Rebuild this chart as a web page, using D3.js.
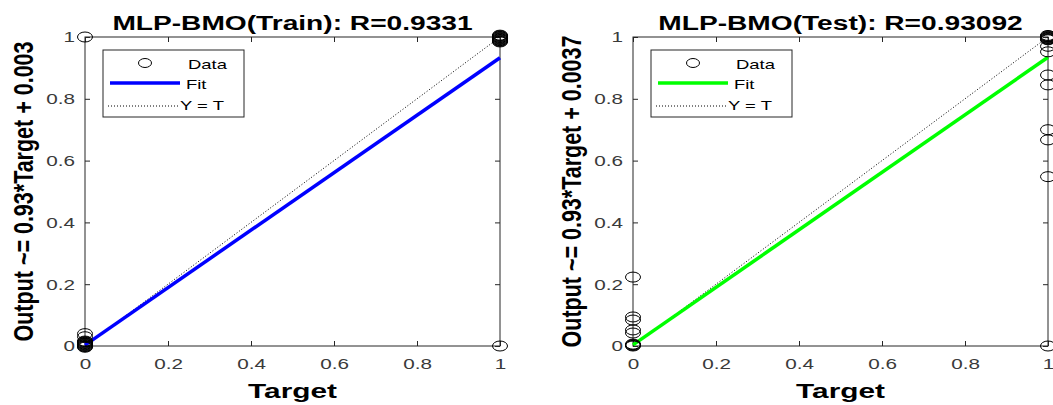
<!DOCTYPE html>
<html>
<head>
<meta charset="utf-8">
<script src="https://cdn.jsdelivr.net/npm/d3@7"></script>
<style>
  body { margin: 0; background: #fff; }
  text { font-family: "Liberation Sans", Arial, sans-serif; }
</style>
</head>
<body>
<svg width="1053" height="405"></svg>
<script>
// values
var ticks = [0, 0.2, 0.4, 0.6, 0.8, 1];
var tickLabels = ["0", "0.2", "0.4", "0.6", "0.8", "1"];

var trainTarget = [0, 0, 0, 0, 0, 0, 0, 0, 0, 0, 0, 0, 0, 0,
                   1, 1, 1, 1, 1, 1, 1, 1, 1, 1, 1, 1, 1];
var trainOutput = [1, 0.04, 0.03, 0.016, 0.014, 0.012, 0.01, 0.008, 0.006, 0.004, 0.002, 0.0, -0.002, -0.004,
                   0, 1.006, 1.004, 1.002, 1.0, 0.998, 0.996, 0.994, 0.992, 0.99, 0.988, 0.986, 0.984];

var testTarget = [0, 0, 0, 0, 0, 0, 0, 0, 0,
                  1, 1, 1, 1, 1, 1, 1, 1, 1, 1, 1, 1, 1, 1, 1, 1];
var testOutput = [0.223, 0.094, 0.084, 0.052, 0.042, 0.006, 0.004, 0.002, 0.0,
                  1.005, 1.003, 1.001, 0.999, 0.997, 0.995, 0.993, 0.97, 0.952, 0.877, 0.845, 0.70, 0.667, 0.548, 0, 0.991];

var fits = [
  {slope: 0.93, intercept: 0.003},
  {slope: 0.9306, intercept: 0.0037}
];
var titles = ["MLP-BMO(Train): R=0.9331", "MLP-BMO(Test): R=0.93092"];
var yLabels = ["Output ~= 0.93*Target + 0.003", "Output ~= 0.93*Target + 0.0037"];
var fitColors = ["#0000ff", "#00ff00"];
var legendNames = ["Data", "Fit", "Y = T"];

var svg = d3.select("svg");

// the source image is stretched sideways, so text gets a horizontal scale
var sx = 1.38;

var panels = [
  {left: 85, right: 500, tx: trainTarget, ty: trainOutput},
  {left: 633, right: 1048, tx: testTarget, ty: testOutput}
];
var plotTop = 37, plotBottom = 346;

panels.forEach(function(p, i) {
  var x = d3.scaleLinear().domain([0, 1]).range([p.left, p.right]);
  var y = d3.scaleLinear().domain([0, 1]).range([plotBottom, plotTop]);
  var g = svg.append("g");

  // box
  g.append("rect")
    .attr("x", p.left).attr("y", plotTop)
    .attr("width", p.right - p.left).attr("height", plotBottom - plotTop)
    .attr("fill", "#fff").attr("stroke", "#262626").attr("stroke-width", 1);

  // ticks on all sides, pointing in
  var tl = 5;
  var xa = d3.axisBottom(x).tickValues(ticks).tickSize(-tl).tickPadding(12)
    .tickFormat(function(d, j) { return tickLabels[j]; });
  var xg = g.append("g").attr("transform", "translate(0," + plotBottom + ")").call(xa);
  g.append("g").attr("transform", "translate(0," + plotTop + ")")
    .call(d3.axisTop(x).tickValues(ticks).tickSize(-tl).tickFormat(""));
  var ya = d3.axisLeft(y).tickValues(ticks).tickSize(-tl).tickPadding(10)
    .tickFormat(function(d, j) { return tickLabels[j]; });
  var yg = g.append("g").attr("transform", "translate(" + p.left + ",0)").call(ya);
  g.append("g").attr("transform", "translate(" + p.right + ",0)")
    .call(d3.axisRight(y).tickValues(ticks).tickSize(-tl).tickFormat(""));
  g.selectAll(".domain").remove();
  g.selectAll(".tick line").attr("stroke", "#262626");
  [xg, yg].forEach(function(a) {
    a.selectAll("text").attr("font-size", 15).attr("fill", "#3a3a3a")
      .attr("font-family", "'Liberation Sans', Arial, sans-serif")
      .attr("transform", "scale(" + sx + ",1)");
  });
  yg.selectAll("text").attr("x", -10 / sx);

  // Y = T
  g.append("line")
    .attr("x1", x(0)).attr("y1", y(0)).attr("x2", x(1)).attr("y2", y(1))
    .attr("stroke", "#000").attr("stroke-width", 1).attr("stroke-dasharray", "1,2");

  // fit
  var f = fits[i];
  g.append("line")
    .attr("x1", x(0)).attr("y1", y(f.intercept))
    .attr("x2", x(1)).attr("y2", y(f.slope + f.intercept))
    .attr("stroke", fitColors[i]).attr("stroke-width", 3.5);

  // data
  g.append("g").selectAll("ellipse")
    .data(p.tx.map(function(t, j) { return [t, p.ty[j]]; }))
    .enter().append("ellipse")
    .attr("cx", function(d) { return x(d[0]); })
    .attr("cy", function(d) { return y(d[1]); })
    .attr("rx", 7.5).attr("ry", 5)
    .attr("fill", "none").attr("stroke", "#000").attr("stroke-width", 1);

  var cx = (p.left + p.right) / 2;

  // title
  g.append("text")
    .attr("transform", "translate(" + cx + ",30) scale(1.34,1)")
    .attr("text-anchor", "middle").attr("font-size", 21).attr("font-weight", "bold")
    .text(titles[i]);

  // x label
  g.append("text")
    .attr("transform", "translate(" + cx + ",398) scale(1.42,1)")
    .attr("text-anchor", "middle").attr("font-size", 21).attr("font-weight", "bold")
    .text("Target");

  // y label
  g.append("text")
    .attr("transform", "translate(" + (p.left - 52) + "," + ((plotTop + plotBottom) / 2) + ") scale(1.3,1) rotate(-90)")
    .attr("text-anchor", "middle").attr("font-size", 21.5).attr("font-weight", "bold")
    .text(yLabels[i]);

  // legend
  var lx = p.left + 18, ly = 50;
  var lg = g.append("g");
  lg.append("rect").attr("x", lx).attr("y", ly).attr("width", 141).attr("height", 67)
    .attr("fill", "#fff").attr("stroke", "#262626").attr("stroke-width", 1);
  lg.append("ellipse").attr("cx", lx + 42).attr("cy", ly + 13).attr("rx", 6.5).attr("ry", 4.5)
    .attr("fill", "none").attr("stroke", "#000");
  lg.append("line").attr("x1", lx + 7).attr("x2", lx + 77)
    .attr("y1", ly + 33).attr("y2", ly + 33)
    .attr("stroke", fitColors[i]).attr("stroke-width", 3.5);
  lg.append("line").attr("x1", lx + 5).attr("x2", lx + 75)
    .attr("y1", ly + 56).attr("y2", ly + 56)
    .attr("stroke", "#000").attr("stroke-width", 1).attr("stroke-dasharray", "1,2");
  var legPos = [[lx + 85, ly + 19], [lx + 83, ly + 39], [lx + 77, ly + 60]];
  legendNames.forEach(function(n, k) {
    lg.append("text")
      .attr("transform", "translate(" + legPos[k][0] + "," + legPos[k][1] + ") scale(1.42,1)")
      .attr("font-size", 13).attr("fill", "#000").text(n);
  });
});
</script>
</body>
</html>
